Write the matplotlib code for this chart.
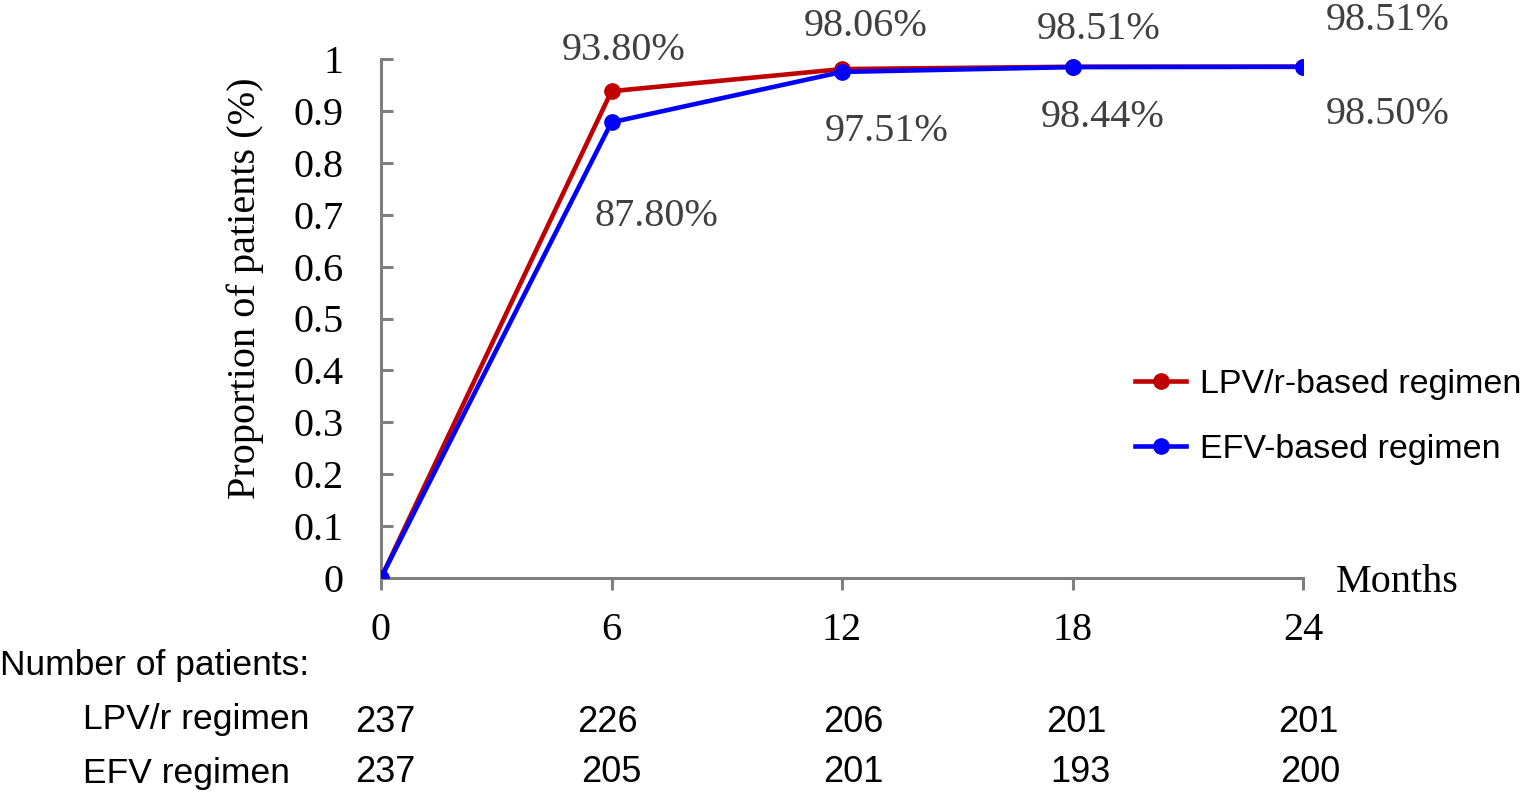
import matplotlib
matplotlib.use("Agg")
import matplotlib.pyplot as plt
import matplotlib.transforms as mtransforms

months = [0, 6, 12, 18, 24]
lpv = [0, 0.938, 0.9806, 0.9851, 0.9851]
efv = [0, 0.878, 0.9751, 0.9844, 0.985]
lpv_labels = ["", "93.80%", "98.06%", "98.51%", "98.51%"]
efv_labels = ["", "87.80%", "97.51%", "98.44%", "98.50%"]
lpv_n = [237, 226, 206, 201, 201]
efv_n = [237, 205, 201, 193, 200]

# label offsets in points (dx, dy) relative to each point
lpv_off = [None, (9, 29), (17, 31), (19, 27), (61, 33)]
efv_off = [None, (32, -68), (32, -43), (22, -36), (61, -34)]
# small horizontal nudges for the patient counts (data units)
n_nudge_lpv = [0.1, -0.1, 0.3, 0.1, 0.15]
n_nudge_efv = [0.1, 0.0, 0.3, 0.2, 0.2]

RED = "#C00000"
BLUE = "#0000FF"
GREY = "#7F7F7F"
SERIF = "Liberation Serif"
SANS = "Liberation Sans"

fig = plt.figure(figsize=(15.2, 7.94), dpi=100)
ax = fig.add_axes([381 / 1520, 1 - 578 / 794, (1303 - 381) / 1520, (578 - 59) / 794])

ax.plot(months, lpv, color=RED, lw=3.3, marker="o", ms=11, label="LPV/r-based regimen", zorder=3)
ax.plot(months, efv, color=BLUE, lw=3.3, marker="o", ms=11, label="EFV-based regimen", zorder=4)

ax.set_xlim(0, 24)
ax.set_ylim(0, 1)
ax.set_xticks(months)
ax.set_yticks([i / 10 for i in range(11)])
ax.set_yticklabels(["0"] + ["0.%d" % i for i in range(1, 10)] + ["1"])

for s in ["top", "right"]:
    ax.spines[s].set_visible(False)
for s in ["left", "bottom"]:
    ax.spines[s].set_color(GREY)
    ax.spines[s].set_linewidth(2.2)

ax.tick_params(axis="y", direction="in", length=8.5, width=2.2, color=GREY, pad=27,
               labelsize=29, labelfontfamily=SERIF)
ax.tick_params(axis="x", direction="out", length=8.5, width=2.2, color=GREY, pad=16,
               labelsize=29, labelfontfamily=SERIF)
ax.patch.set_visible(False)

for x, y, t, o in zip(months, lpv, lpv_labels, lpv_off):
    if t:
        ax.annotate(t, (x, y), xytext=o, textcoords="offset points", ha="center", va="center",
                    fontsize=29, family=SERIF, color="#404040")
for x, y, t, o in zip(months, efv, efv_labels, efv_off):
    if t:
        ax.annotate(t, (x, y), xytext=o, textcoords="offset points", ha="center", va="center",
                    fontsize=29, family=SERIF, color="#404040")

fig.text(1336 / 1520, 1 - 582 / 794, "Months", fontsize=29, family=SERIF, ha="left", va="center")
fig.text(245 / 1520, 1 - 288 / 794, "Proportion of patients (%)", fontsize=29, family=SERIF,
         rotation=90, ha="center", va="center")

ax.legend(loc="center left", bbox_to_anchor=(1135 / 1520, 1 - 417 / 794),
          bbox_transform=fig.transFigure, frameon=False,
          prop={"family": SANS, "size": 24.5}, handlelength=1.5, handletextpad=0.4,
          labelspacing=1.0, borderpad=0, borderaxespad=0)

# patient table below the axis
fig.text(0.0, 1 - 665 / 794, "Number of patients:", fontsize=25.5, family=SANS, ha="left", va="center")
fig.text(83 / 1520, 1 - 720 / 794, "LPV/r regimen", fontsize=25.5, family=SANS, ha="left", va="center")
fig.text(83 / 1520, 1 - 773 / 794, "EFV regimen", fontsize=25.5, family=SANS, ha="left", va="center")
tr = mtransforms.blended_transform_factory(ax.transData, fig.transFigure)
for x, n, d in zip(months, lpv_n, n_nudge_lpv):
    ax.text(x + d, 1 - 722 / 794, str(n), transform=tr, fontsize=26, family=SANS,
            ha="center", va="center", clip_on=False)
for x, n, d in zip(months, efv_n, n_nudge_efv):
    ax.text(x + d, 1 - 773 / 794, str(n), transform=tr, fontsize=26, family=SANS,
            ha="center", va="center", clip_on=False)

fig.savefig("out.png", dpi=100)
